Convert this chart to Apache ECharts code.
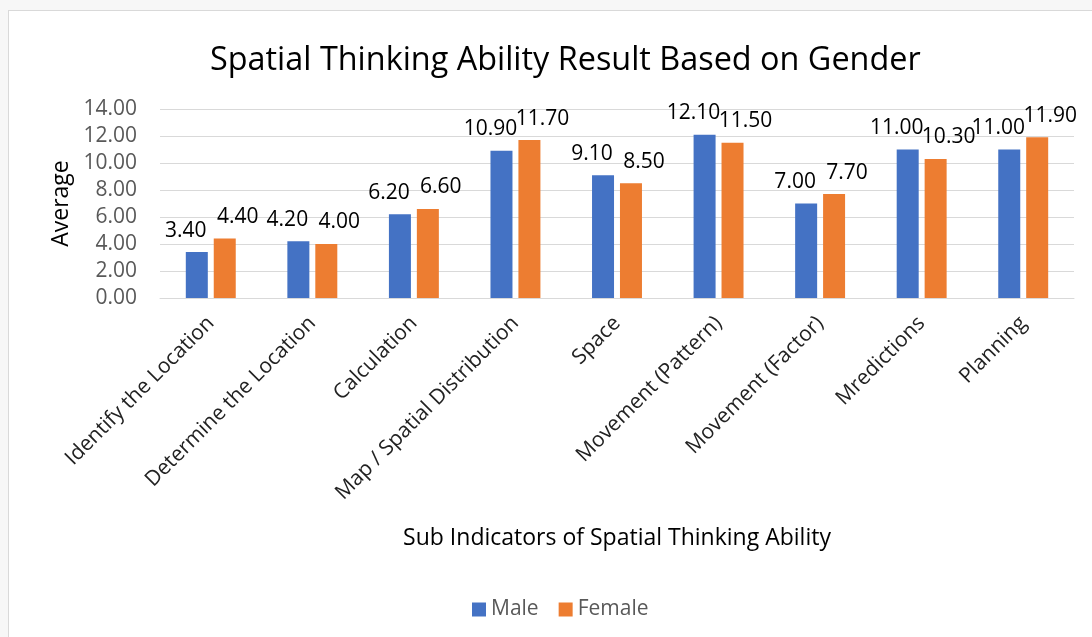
<!DOCTYPE html>
<html>
<head>
<meta charset="utf-8">
<script src="https://cdn.jsdelivr.net/npm/echarts@6/dist/echarts.min.js"></script>
<style>
html,body{margin:0;padding:0;width:1092px;height:637px;overflow:hidden;background:#f7f7f7;}
#frame{position:absolute;left:8px;top:10px;width:1100px;height:640px;background:#fff;border:1px solid #d9d9d9;}
#chart{position:absolute;left:0;top:0;width:1092px;height:637px;}
</style>
</head>
<body>
<div id="frame"></div>
<div id="chart"></div>
<script>
const categories = ["Identify the Location","Determine the Location","Calculation","Map / Spatial Distribution","Space","Movement (Pattern)","Movement (Factor)","Mredictions","Planning"];
const maleValues = [3.40,4.20,6.20,10.90,9.10,12.10,7.00,11.00,11.00];
const femaleValues = [4.40,4.00,6.60,11.70,8.50,11.50,7.70,10.30,11.90];
const yTicks = {min:0, max:14, interval:2};

const FONT = '"Open Sans", sans-serif';
const chart = echarts.init(document.getElementById('chart'), null, {renderer:'canvas'});
chart.setOption({
  backgroundColor:'transparent',
  animation:false,
  title:{
    text:'Spatial Thinking Ability Result Based on Gender',
    left:205, top:40,
    textStyle:{fontFamily:FONT, fontSize:32.4, fontWeight:'normal', color:'#000'}
  },
  legend:{
    data:['Male','Female'],
    left:467, top:594,
    itemWidth:14, itemHeight:14, itemGap:20,
    icon:'rect',
    textStyle:{fontFamily:FONT, fontSize:21, color:'#595959'}
  },
  grid:{left:160, right:18, top:109, bottom:339, containLabel:false},
  xAxis:{
    type:'category',
    data:categories,
    name:'Sub Indicators of Spatial Thinking Ability',
    nameLocation:'middle',
    nameGap:229,
    nameTextStyle:{fontFamily:FONT, fontSize:23, color:'#000'},
    axisLine:{lineStyle:{color:'#d9d9d9', width:1}},
    axisTick:{show:false},
    axisLabel:{rotate:45, fontFamily:FONT, fontSize:21, color:'#222', margin:22, interval:0}
  },
  yAxis:{
    type:'value',
    min:yTicks.min, max:yTicks.max, interval:yTicks.interval,
    name:'Average',
    nameLocation:'middle',
    nameRotate:90,
    nameGap:84,
    nameTextStyle:{fontFamily:FONT, fontSize:23, color:'#000'},
    axisLine:{show:false},
    axisTick:{show:false},
    splitLine:{lineStyle:{color:'#d9d9d9', width:1}},
    axisLabel:{fontFamily:FONT, fontSize:21, color:'#595959', margin:23,
      formatter:v=>v.toFixed(2)}
  },
  series:[
    {name:'Male', type:'bar', data:maleValues, barWidth:22, barGap:'27%',
     itemStyle:{color:'#4472C4'},
     label:{show:true, position:'top', distance:11, offset:[-11,0], fontFamily:FONT, fontSize:21, color:'#000',
       formatter:p=>p.value.toFixed(2)}},
    {name:'Female', type:'bar', data:femaleValues, barWidth:22, barGap:'27%',
     itemStyle:{color:'#ED7D31'},
     label:{show:true, position:'top', distance:11, offset:[13,0], fontFamily:FONT, fontSize:21, color:'#000',
       formatter:p=>p.value.toFixed(2)}}
  ]
});
</script>
</body>
</html>
